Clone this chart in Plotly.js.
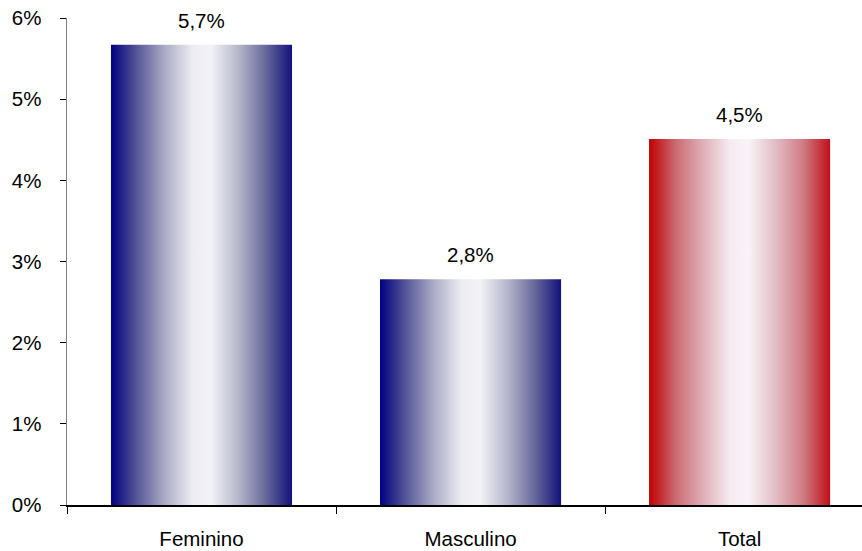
<!DOCTYPE html>
<html><head><meta charset="utf-8">
<script src="https://cdn.plot.ly/plotly-3.0.1.min.js"></script>
<style>body{margin:0;background:#fff}#c{width:862px;height:551px}</style>
</head><body><div id="c"></div>
<script>
const categories = ["Feminino", "Masculino", "Total"];
const values = [5.67, 2.78, 4.51];
const labels = ["5,7%", "2,8%", "4,5%"];
const yTickVals = [0, 1, 2, 3, 4, 5, 6];
const yTickText = ["0%", "1%", "2%", "3%", "4%", "5%", "6%"];
const gradIds = ["gBlue", "gBlue", "gRed"];

const font = "Liberation Sans, Arial, sans-serif";
const trace = {
  type: "bar", x: categories, y: values, width: 0.673,
  marker: {color: ["#000080", "#000080", "#c00000"], line: {width: 0}},
  hoverinfo: "none"
};
const annotations = categories.map((c, i) => ({
  x: c, y: values[i], text: labels[i], showarrow: false,
  yanchor: "bottom", yshift: 11, font: {family: font, size: 20.5, color: "#000"}
}));
const layout = {
  width: 862, height: 551,
  margin: {l: 67, r: 0, t: 18, b: 46},
  paper_bgcolor: "#fff", plot_bgcolor: "#fff",
  showlegend: false, bargap: 0.327,
  font: {family: font, size: 20.5, color: "#000"},
  xaxis: {type: "category", range: [-0.5, 2.455], showgrid: false, zeroline: false,
    showline: true, linecolor: "#000", linewidth: 1.5,
    ticks: "outside", tickson: "boundaries", ticklen: 7, tickcolor: "#000", tickwidth: 1,
    ticklabelstandoff: 15,
    tickfont: {family: font, size: 20.5, color: "#000"}},
  yaxis: {range: [0, 6], tickvals: yTickVals, ticktext: yTickText, showgrid: false, zeroline: false,
    showline: true, linecolor: "#808080", linewidth: 1.5,
    ticks: "outside", ticklen: 6, tickcolor: "#000", tickwidth: 1,
    ticklabelstandoff: 14,
    tickfont: {family: font, size: 20.5, color: "#000"}},
  annotations: annotations
};
Plotly.newPlot("c", [trace], layout, {displayModeBar: false, staticPlot: true}).then(gd => {
  const svg = gd.querySelector(".main-svg");
  const ns = "http://www.w3.org/2000/svg";
  let defs = svg.querySelector("defs");
  if (!defs) { defs = document.createElementNS(ns, "defs"); svg.insertBefore(defs, svg.firstChild); }
  const mk = (id, stops) => {
    const g = document.createElementNS(ns, "linearGradient");
    g.setAttribute("id", id); g.setAttribute("x1", "0"); g.setAttribute("x2", "1");
    g.setAttribute("y1", "0"); g.setAttribute("y2", "0");
    stops.forEach(([o, c]) => {
      const s = document.createElementNS(ns, "stop");
      s.setAttribute("offset", o); s.setAttribute("stop-color", c); g.appendChild(s);
    });
    defs.appendChild(g);
  };
  mk("gBlue", [[0, "#000080"], [0.15, "#5a5a98"], [0.3, "#adadc6"], [0.45, "#ececf2"], [0.55, "#f3f3f7"],
               [0.7, "#b8b8cc"], [0.85, "#6a6a9c"], [1, "#12127a"]]);
  mk("gRed", [[0, "#c00000"], [0.15, "#cc6c74"], [0.3, "#dfb0b8"], [0.45, "#f5ecf2"], [0.55, "#f9f3f8"],
              [0.7, "#e2bcc4"], [0.85, "#cf7c84"], [1, "#c01018"]]);
  gd.querySelectorAll(".trace.bars .point path").forEach((p, i) => {
    p.style.fill = "url(#" + gradIds[i] + ")";
    p.style.fillOpacity = 1;
  });
});
</script></body></html>
